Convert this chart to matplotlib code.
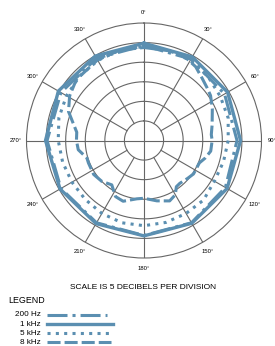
import numpy as np
import matplotlib
matplotlib.use('Agg')
import matplotlib.pyplot as plt
from matplotlib.lines import Line2D

plt.rcParams['font.family'] = ['Liberation Sans', 'DejaVu Sans']
plt.rcParams['lines.scale_dashes'] = False

BLUE = '#5b8fb1'
GRID = '#666666'

# angles in degrees clockwise from top, radius in divisions (5 dB each, 6 = outer ring)
ang_200 = [0, 30, 60, 90, 120, 150, 180, 210, 240, 270, 300, 330, 360]
r_200 = [4.85, 4.8, 4.75, 4.75, 4.8, 4.85, 4.85, 4.85, 4.9, 4.95, 4.9, 4.85, 4.85]

ang_1k = [0, 30, 60, 90, 120, 150, 180, 210, 240, 270, 300, 330, 360]
r_1k = [4.97, 4.93, 4.93, 4.93, 4.9, 4.88, 4.87, 4.9, 4.95, 5.03, 5.05, 4.98, 4.97]

ang_5k = [0, 15, 30, 45, 60, 75, 90, 105, 120, 135, 150, 165, 180, 195, 210, 225,
          240, 255, 270, 285, 300, 315, 330, 345, 360]
r_5k = [4.8, 4.78, 4.72, 4.62, 4.5, 4.45, 4.3, 4.2, 4.15, 4.3, 4.3, 4.33, 4.35, 4.35,
        4.3, 4.25, 4.25, 4.3, 4.38, 4.5, 4.57, 4.65, 4.72, 4.78, 4.8]

ang_8k = [0, 15, 25, 35, 43, 50, 56, 65, 77, 85, 90, 99, 106, 112, 124, 131, 140, 145,
          150, 157, 168, 180, 187, 199, 207, 216, 226, 236, 248, 253, 262, 270, 277,
          291, 301, 312, 330, 345, 360]
r_8k = [4.75, 4.75, 4.78, 4.6, 4.35, 4.2, 4.1, 3.85, 3.57, 3.45, 3.48, 3.45, 3.25, 3.05,
        3.05, 2.95, 2.85, 2.88, 3.2, 3.35, 3.15, 2.95, 3.0, 3.28, 3.21, 2.8, 3.0, 3.1,
        3.06, 3.05, 3.39, 3.45, 3.46, 4.13, 4.43, 4.65, 4.75, 4.78, 4.75]

tick_angles = [0, 30, 60, 90, 120, 150, 180, 210, 240, 270, 300, 330]
tick_labels = ['0°', '30°', '60°', '90°', '120°', '150°', '180°', '210°', '240°',
               '270°', '300°', '330°']

legend_names = ['200 Hz', '1 kHz', '5 kHz', '8 kHz']

styles = [
    dict(ls=(0, (14.4, 3.6, 2.2, 3.6)), lw=2.2),
    dict(ls='-', lw=2.4),
    dict(ls=(0, (2.2, 3.8)), lw=2.2),
    dict(ls=(0, (9.4, 2.9)), lw=2.2),
]

fig = plt.figure(figsize=(2.75, 3.46), dpi=100)
ax = fig.add_axes([0.0964, 0.2543, 0.8545, 0.6792], projection='polar')
ax.set_theta_zero_location('N')
ax.set_theta_direction(-1)
ax.set_ylim(0, 6)
ax.set_yticks([1, 2, 3, 4, 5])
ax.set_yticklabels([])
ax.set_xticks([])
ax.grid(False)
ax.spines['polar'].set_color(GRID)
ax.spines['polar'].set_linewidth(0.8)

# rings
th = np.linspace(0, 2 * np.pi, 361)
for rr in [1, 2, 3, 4, 5]:
    ax.plot(th, np.full_like(th, rr), color=GRID, lw=0.8, zorder=1)
# spokes (diagonals start at first ring)
for a in tick_angles:
    r0 = 0 if a % 90 == 0 else 1
    ax.plot([np.deg2rad(a)] * 2, [r0, 6], color=GRID, lw=0.8, zorder=1)
for a, lab in zip(tick_angles, tick_labels):
    ax.text(np.deg2rad(a), 6.53, lab, fontsize=4.2, ha='center', va='center',
            clip_on=False)

series = [(ang_200, r_200), (ang_1k, r_1k), (ang_5k, r_5k), (ang_8k, r_8k)]
for (a, r), st in zip(series, styles):
    ax.plot(np.deg2rad(a), r, color=BLUE, linestyle=st['ls'], lw=st['lw'],
            dash_capstyle='butt', zorder=3)

fig.text(0.52, 0.1705, 'SCALE IS 5 DECIBELS PER DIVISION', fontsize=6.0,
         ha='center', va='center')
fig.text(0.029, 0.131, 'LEGEND', fontsize=6.4, ha='left', va='center')

row_y = [315, 324, 333.3, 342]
line_end = [107, 113, 110, 111]
for name, y, xe, st in zip(legend_names, row_y, line_end, styles):
    fy = 1 - y / 346
    fig.text(41 / 275, fy, name, fontsize=5.9, ha='right', va='center')
    fig.add_artist(Line2D([47 / 275, xe / 275], [fy, fy], color=BLUE,
                          linestyle=st['ls'], lw=st['lw'], dash_capstyle='butt',
                          transform=fig.transFigure))

fig.savefig('out.png', dpi=100)
